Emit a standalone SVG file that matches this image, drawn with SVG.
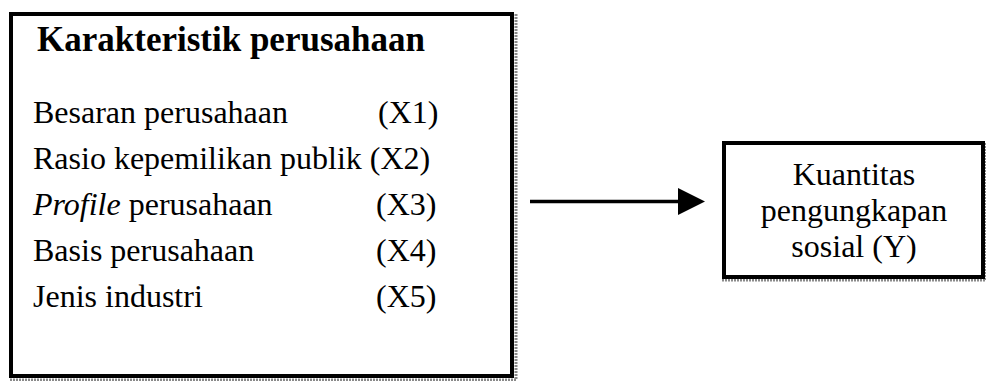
<svg xmlns="http://www.w3.org/2000/svg" width="986" height="381" viewBox="0 0 986 381">
  <style>
    .box { fill: #ffffff; stroke: #000000; stroke-width: 4; }
    .shadow { fill: none; stroke: #8a8a8a; stroke-width: 3; stroke-dasharray: 2 1; }
    .t { font-family: "Liberation Serif", "Times New Roman", serif; font-size: 32px; fill: #000000; }
    .title { font-weight: bold; font-size: 35px; }
    .c { text-anchor: middle; }
    .conn { stroke: #000000; stroke-width: 3.5; fill: none; }
  </style>
  <rect width="986" height="381" fill="#ffffff"/>

  <g id="node-karakteristik">
    <polyline class="shadow" points="516,14 516,380 10,380"/>
    <rect class="box" x="11" y="14" width="501" height="362"/>
    <text class="t title" x="231" y="51" text-anchor="middle">Karakteristik perusahaan</text>
    <text class="t" x="33" y="123">Besaran perusahaan</text>
    <text class="t" x="378" y="123">(X1)</text>
    <text class="t" x="33" y="169">Rasio kepemilikan publik (X2)</text>
    <text class="t" x="33" y="215"><tspan font-style="italic">Profile</tspan> perusahaan</text>
    <text class="t" x="376" y="215">(X3)</text>
    <text class="t" x="33" y="261">Basis perusahaan</text>
    <text class="t" x="376" y="261">(X4)</text>
    <text class="t" x="33" y="307">Jenis industri</text>
    <text class="t" x="376" y="307">(X5)</text>
  </g>

  <g id="node-kuantitas">
    <polyline class="shadow" points="986,143 986,280 722,280"/>
    <rect class="box" x="724" y="143" width="259" height="134"/>
    <text class="t c" x="854" y="185">Kuantitas</text>
    <text class="t c" x="854" y="221">pengungkapan</text>
    <text class="t c" x="854" y="257">sosial (Y)</text>
  </g>

  <g id="connectors">
    <line class="conn" x1="530" y1="201.5" x2="680" y2="201.5"/>
    <polygon points="678,188 705,201.5 678,215" fill="#000000"/>
  </g>
</svg>
